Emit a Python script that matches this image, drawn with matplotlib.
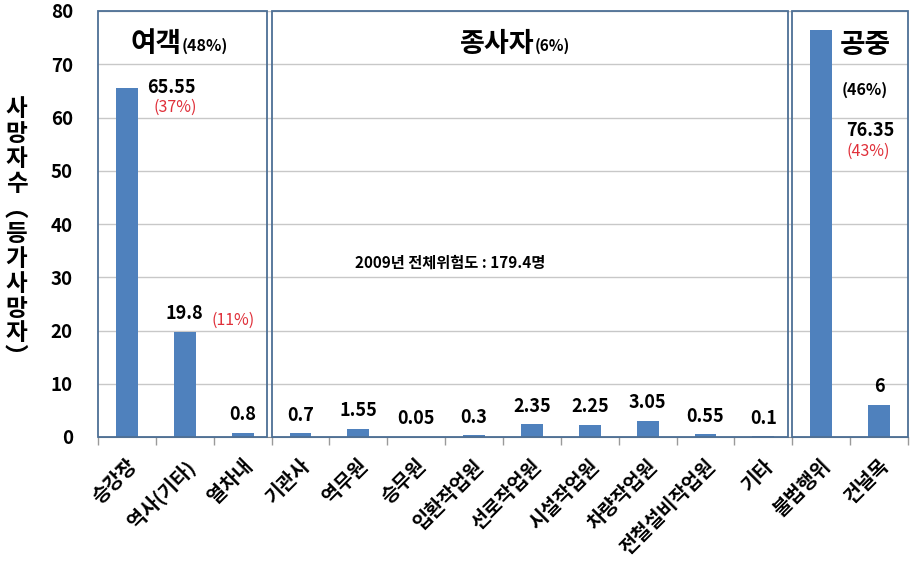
import matplotlib
matplotlib.use("Agg")
import matplotlib.pyplot as plt
from matplotlib.patches import Rectangle
import numpy as np

plt.rcParams['font.family'] = ['Noto Sans CJK KR', 'DejaVu Sans']

categories = ['승강장', '역사(기타)', '열차내', '기관사', '역무원', '승무원', '입환작업원',
              '선로작업원', '시설작업원', '차량작업원', '전철설비작업원', '기타', '불법행위', '건널목']
values = [65.55, 19.8, 0.8, 0.7, 1.55, 0.05, 0.3, 2.35, 2.25, 3.05, 0.55, 0.1, 76.35, 6]
value_labels = ['65.55', '19.8', '0.8', '0.7', '1.55', '0.05', '0.3', '2.35', '2.25', '3.05',
                '0.55', '0.1', '76.35', '6']
group_names = ['여객', '종사자', '공중']
group_shares = ['(48%)', '(6%)', '(46%)']
item_shares = {0: '(37%)', 1: '(11%)', 12: '(43%)'}
total_text = '2009년 전체위험도 : 179.4명'
ylabel_text = '사망자수︵등가사망자︶'
yticks = [0, 10, 20, 30, 40, 50, 60, 70, 80]

BAR = '#4f81bd'
BOX = '#4d6f95'
RED = '#e0303a'

fig = plt.figure(figsize=(9.13, 5.70), dpi=100)
ax = fig.add_axes([98/913, 1-437/570, 810/913, 426/570])

x = np.arange(len(categories))
ax.bar(x, values, width=0.38, color=BAR, zorder=3)
ax.set_xlim(-0.5, len(categories) - 0.5)
ax.set_ylim(0, 80)
ax.set_yticks(yticks)
ax.set_yticklabels([str(v) for v in yticks], fontsize=13.5, fontweight='bold')
ax.tick_params(axis='y', length=0, pad=18)
ax.grid(axis='y', color='#c8c8c8', linewidth=1.0, zorder=0)
ax.set_axisbelow(True)

ax.set_xticks(x)
ax.set_xticklabels(categories, rotation=45, ha='right', rotation_mode='anchor',
                   fontsize=14, fontweight='bold')
ax.tick_params(axis='x', length=0, pad=14)
ax.set_xticks(np.arange(-0.5, len(categories) + 0.5, 1), minor=True)
ax.tick_params(axis='x', which='minor', length=6, color='#9a9a9a', width=1)

for s in ['top', 'right', 'left']:
    ax.spines[s].set_visible(False)
ax.spines['bottom'].set_color('#8a8a8a')

# group boxes
boxes = [(-0.5, 2.42), (2.5, 11.42), (11.5, 13.5)]
for (x0, x1) in boxes:
    ax.add_patch(Rectangle((x0, 0), x1 - x0, 80, fill=False, edgecolor=BOX,
                           linewidth=1.3, zorder=4, clip_on=False))

# value labels
for i, (v, lab) in enumerate(zip(values, value_labels)):
    if i == 0:
        ax.text(i + 0.77, v, lab, ha='center', va='center', fontsize=13, fontweight='bold')
    elif i == 12:
        ax.text(i + 0.84, 57.6, lab, ha='center', va='center', fontsize=13, fontweight='bold')
    else:
        ax.annotate(lab, (i, v), xytext=(0, 13), textcoords='offset points',
                    ha='center', va='center', fontsize=13, fontweight='bold')

# share labels
ax.text(0.83, 62.0, item_shares[0], ha='center', va='center', fontsize=11.5, color=RED)
ax.text(1.83, 21.9, item_shares[1], ha='center', va='center', fontsize=11.5, color=RED)
ax.text(12.82, 53.7, item_shares[12], ha='center', va='center', fontsize=11.5, color=RED)

# group titles
ax.text(0.95, 73.8, group_names[0], ha='right', va='center', fontsize=20, fontweight='bold')
ax.text(0.95, 73.4, group_shares[0], ha='left', va='center', fontsize=11.5, fontweight='bold')
ax.text(7.05, 73.8, group_names[1], ha='right', va='center', fontsize=19.5, fontweight='bold')
ax.text(7.05, 73.4, group_shares[1], ha='left', va='center', fontsize=11, fontweight='bold')
ax.text(12.77, 73.6, group_names[2], ha='center', va='center', fontsize=20, fontweight='bold')
ax.text(12.76, 65.2, group_shares[2], ha='center', va='center', fontsize=11.5, fontweight='bold')

ax.text(5.58, 32.7, total_text, ha='center', va='center', fontsize=11, fontweight='bold')

fig.text(0.018, 0.59, '\n'.join(ylabel_text), ha='center', va='center',
         fontsize=17, fontweight='bold', linespacing=1.05)

fig.savefig('out.png', dpi=100)
